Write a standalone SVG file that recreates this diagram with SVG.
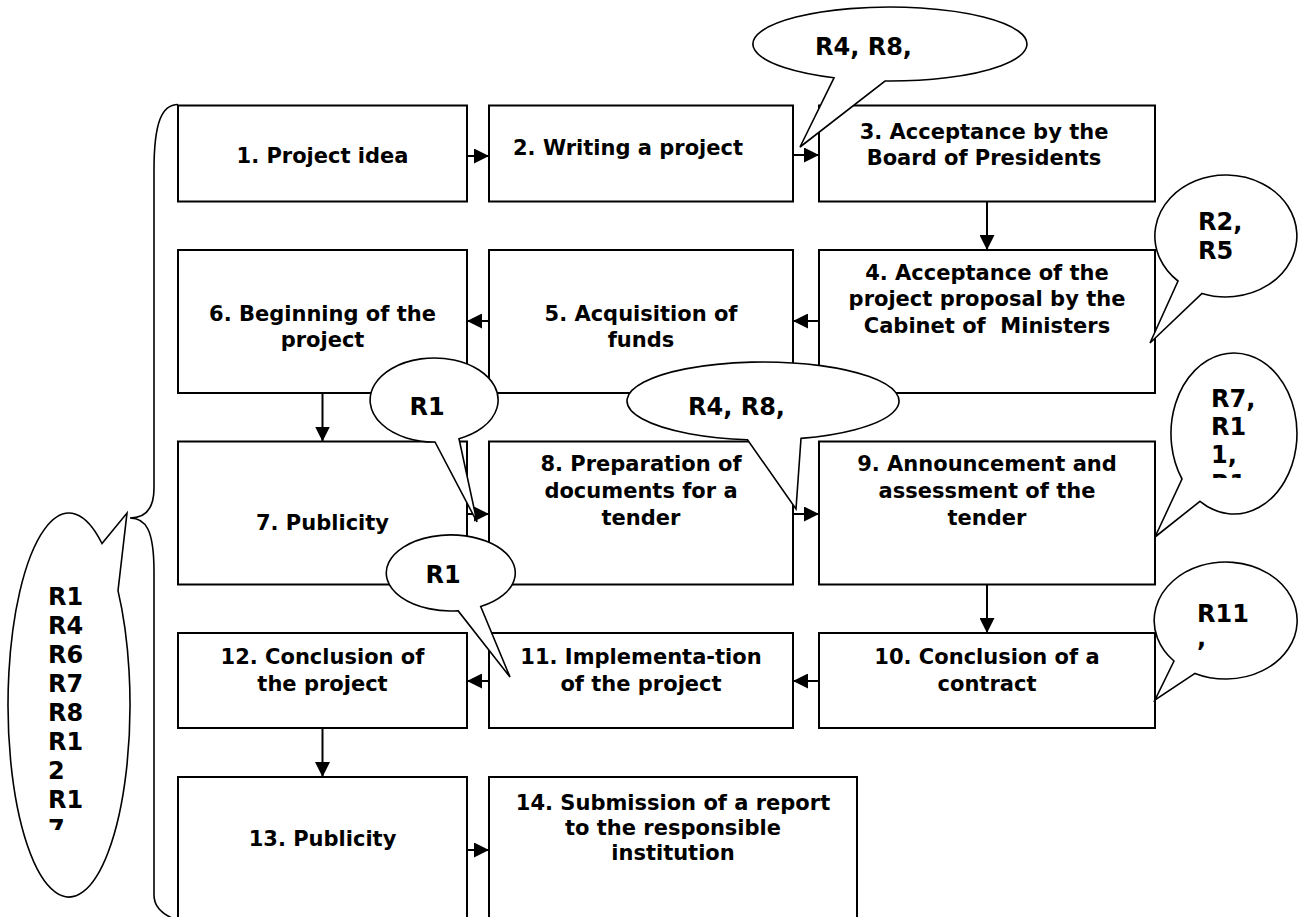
<svg xmlns="http://www.w3.org/2000/svg" width="1298" height="917" viewBox="0 0 1298 917">
<style>
.box{fill:#fff;stroke:#000;stroke-width:2}
.t{font-family:"DejaVu Sans",Verdana,sans-serif;font-weight:bold;font-size:21px;fill:#000;text-anchor:middle}
.ct{font-family:"DejaVu Sans",Verdana,sans-serif;font-weight:bold;font-size:24px;fill:#000}
.co{fill:#fff;stroke:#000;stroke-width:1.6;stroke-linejoin:miter}
.ar{stroke:#000;stroke-width:2;fill:none;marker-end:url(#ah)}
</style>
<defs>
<marker id="ah" markerUnits="userSpaceOnUse" markerWidth="15" markerHeight="15" refX="15" refY="7.5" orient="auto">
<path d="M0,0 L15,7.5 L0,15 Z" fill="#000"/>
</marker>
<clipPath id="clipC"><rect x="1190" y="380" width="100" height="98"/></clipPath>
<clipPath id="clipG"><rect x="30" y="580" width="90" height="250"/></clipPath>
</defs>
<rect width="1298" height="917" fill="#fff"/>

<g id="n1"><rect class="box" x="178" y="105.5" width="289" height="96"/><text class="t" x="322.5" y="163">1. Project idea</text></g>
<g id="n2"><rect class="box" x="489" y="105.5" width="304" height="96"/><text class="t" x="628" y="155">2. Writing a project</text></g>
<g id="n3"><rect class="box" x="819" y="105.5" width="336" height="96"/><text class="t" x="984" y="139">3. Acceptance by the</text><text class="t" x="984" y="165">Board of Presidents</text></g>
<g id="n4"><rect class="box" x="819" y="250" width="336" height="143"/><text class="t" x="987" y="280">4. Acceptance of the</text><text class="t" x="987" y="306">project proposal by the</text><text class="t" x="987" y="333" xml:space="preserve">Cabinet of  Ministers</text></g>
<g id="n5"><rect class="box" x="489" y="250" width="304" height="143"/><text class="t" x="641" y="321">5. Acquisition of</text><text class="t" x="641" y="347">funds</text></g>
<g id="n6"><rect class="box" x="178" y="250" width="289" height="143"/><text class="t" x="322.5" y="321">6. Beginning of the</text><text class="t" x="322.5" y="347">project</text></g>
<g id="n7"><rect class="box" x="178" y="441.5" width="289" height="143"/><text class="t" x="322.5" y="530">7. Publicity</text></g>
<g id="n8"><rect class="box" x="489" y="441.5" width="304" height="143"/><text class="t" x="641" y="471">8. Preparation of</text><text class="t" x="641" y="498">documents for a</text><text class="t" x="641" y="525">tender</text></g>
<g id="n9"><rect class="box" x="819" y="441.5" width="336" height="143"/><text class="t" x="987" y="471">9. Announcement and</text><text class="t" x="987" y="498">assessment of the</text><text class="t" x="987" y="525">tender</text></g>
<g id="n10"><rect class="box" x="819" y="633" width="336" height="95"/><text class="t" x="987" y="664">10. Conclusion of a</text><text class="t" x="987" y="691">contract</text></g>
<g id="n11"><rect class="box" x="489" y="633" width="304" height="95"/><text class="t" x="641" y="664">11. Implementa-tion</text><text class="t" x="641" y="691">of the project</text></g>
<g id="n12"><rect class="box" x="178" y="633" width="289" height="95"/><text class="t" x="322.5" y="664">12. Conclusion of</text><text class="t" x="322.5" y="691">the project</text></g>
<g id="n13"><rect class="box" x="178" y="777" width="289" height="170"/><text class="t" x="322.5" y="846">13. Publicity</text></g>
<g id="n14"><rect class="box" x="489" y="777" width="368" height="170"/><text class="t" x="673" y="810">14. Submission of a report</text><text class="t" x="673" y="835">to the responsible</text><text class="t" x="673" y="860">institution</text></g>

<g id="connectors">
<line class="ar" x1="467" y1="156" x2="489" y2="156"/>
<line class="ar" x1="793" y1="155" x2="819" y2="155"/>
<line class="ar" x1="987" y1="201.5" x2="987" y2="250"/>
<line class="ar" x1="819" y1="321" x2="793" y2="321"/>
<line class="ar" x1="489" y1="321" x2="467" y2="321"/>
<line class="ar" x1="322.5" y1="393" x2="322.5" y2="441.5"/>
<line class="ar" x1="467" y1="514" x2="489" y2="514"/>
<line class="ar" x1="793" y1="514" x2="819" y2="514"/>
<line class="ar" x1="987" y1="584.5" x2="987" y2="633"/>
<line class="ar" x1="819" y1="681" x2="793" y2="681"/>
<line class="ar" x1="489" y1="681" x2="467" y2="681"/>
<line class="ar" x1="322.5" y1="728" x2="322.5" y2="777"/>
<line class="ar" x1="467" y1="850" x2="489" y2="850"/>
</g>

<g id="brace"><path d="M178,104.5 C162,104.5 154,122 154,170 L154,488 C154,508 146,518 130,518 C146,518 154,530 154,572 L154,895 C154,906 161,913 172,918" fill="none" stroke="#000" stroke-width="1.6"/></g>

<g id="callout-top">
<path class="co" d="M834,77.8 A137,37 0 1 1 885,81 L800,147 Z"/>
<text class="ct" x="815" y="55">R4, R8,</text>
</g>
<g id="callout-r2r5">
<path class="co" d="M1178,281 A71,61 0 1 1 1202,293.4 L1150,343 Z"/>
<text class="ct" x="1198" y="230">R2,</text><text class="ct" x="1198" y="259">R5</text>
</g>
<g id="callout-r7">
<path class="co" d="M1182,479 A63,80.5 0 1 1 1200,501.3 L1155,537 Z"/>
<g clip-path="url(#clipC)"><text class="ct" x="1211" y="407">R7,</text><text class="ct" x="1211" y="435">R1</text><text class="ct" x="1211" y="463">1,</text><text class="ct" x="1211" y="492">R1</text></g>
</g>
<g id="callout-r11">
<path class="co" d="M1174,661 A71.5,58.5 0 1 1 1195,673.4 L1155,700 Z"/>
<text class="ct" x="1197" y="622">R11</text><text class="ct" x="1197" y="646">,</text>
</g>
<g id="callout-r1a">
<path class="co" d="M435,442 A64,42 0 1 1 459,438.7 L477,522 Z"/>
<text class="ct" x="427" y="415" text-anchor="middle">R1</text>
</g>
<g id="callout-r4b">
<path class="co" d="M747.5,439.7 A136,39 0 1 1 801,438.4 L796,509 Z"/>
<text class="ct" x="688" y="415">R4, R8,</text>
</g>
<g id="callout-r1b">
<path class="co" d="M458,610.7 A64.5,38 0 1 1 480.7,606.6 L510,677 Z"/>
<text class="ct" x="443" y="583" text-anchor="middle">R1</text>
</g>
<g id="callout-left">
<path class="co" d="M118,590.6 A61,192 0 1 1 102,543.5 L127,513 Z"/>
<g clip-path="url(#clipG)"><text class="ct" x="48" y="605">R1</text><text class="ct" x="48" y="634">R4</text><text class="ct" x="48" y="663">R6</text><text class="ct" x="48" y="692">R7</text><text class="ct" x="48" y="721">R8</text><text class="ct" x="48" y="750">R1</text><text class="ct" x="48" y="779">2</text><text class="ct" x="48" y="808">R1</text><text class="ct" x="48" y="837">7</text></g>
</g>
</svg>
